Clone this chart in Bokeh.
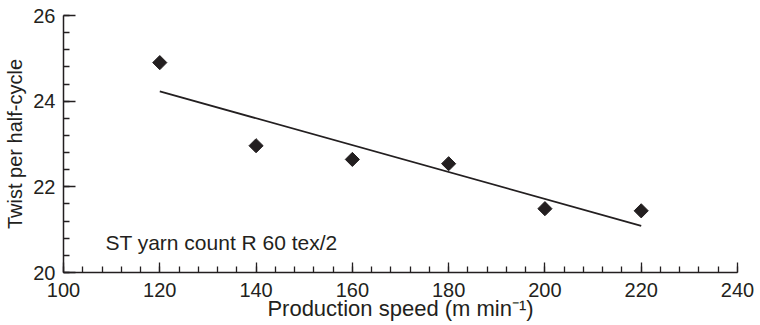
import numpy as np
from bokeh.plotting import figure
from bokeh.models import Range1d, FixedTicker, Label
from bokeh.embed import file_html
from bokeh.resources import INLINE

# Data
speed = [120, 140, 160, 180, 200, 220]
twist = [24.90, 22.96, 22.64, 22.54, 21.49, 21.44]
fit_x = [120, 220]
fit_y = [24.23, 21.09]

x_ticks = [100, 120, 140, 160, 180, 200, 220, 240]
x_minor = [100 + 4 * i for i in range(36)]
y_ticks = [20, 22, 24, 26]
y_minor = [round(20 + 0.4 * i, 2) for i in range(16)]

FONT = "Liberation Sans"
INK = "#231f20"

p = figure(width=760, height=325, output_backend="svg", toolbar_location=None,
           x_range=Range1d(100, 240), y_range=Range1d(20, 26),
           min_border_left=63, min_border_right=23, min_border_top=15, min_border_bottom=53)
p.outline_line_color = None
p.xgrid.visible = False
p.ygrid.visible = False
p.background_fill_color = "white"

p.line(fit_x, fit_y, line_color=INK, line_width=1.8)
p.scatter(speed, twist, marker="square", angle=np.pi / 4, size=10,
          fill_color=INK, line_color=INK)

for ax in (p.xaxis[0], p.yaxis[0]):
    ax.axis_line_color = INK
    ax.axis_line_width = 1.5
    ax.major_tick_line_color = INK
    ax.minor_tick_line_color = INK
    ax.major_tick_line_width = 1.3
    ax.minor_tick_line_width = 1.3
    ax.major_tick_out = 0
    ax.minor_tick_out = 0
    ax.minor_tick_in = 6
    ax.major_label_text_font = FONT
    ax.major_label_text_font_size = "20px"
    ax.major_label_text_color = INK
    ax.axis_label_text_font = FONT
    ax.axis_label_text_font_style = "normal"
    ax.axis_label_text_color = INK

p.xaxis[0].ticker = FixedTicker(ticks=x_ticks, minor_ticks=x_minor)
p.yaxis[0].ticker = FixedTicker(ticks=y_ticks, minor_ticks=y_minor)
p.xaxis[0].major_tick_in = 10
p.yaxis[0].major_tick_in = 12
p.xaxis[0].major_label_standoff = 10
p.yaxis[0].major_label_standoff = 8
p.xaxis[0].axis_label = "Production speed (m min\u207b\u00b9)"
p.yaxis[0].axis_label = "Twist per half-cycle"
p.xaxis[0].axis_label_text_font_size = "22px"
p.yaxis[0].axis_label_text_font_size = "20px"
p.xaxis[0].axis_label_standoff = -4
p.yaxis[0].axis_label_standoff = 4

p.add_layout(Label(x=108.7, y=20.70, text="ST yarn count R 60 tex/2",
                   text_font=FONT, text_font_size="21px", text_color=INK,
                   text_baseline="alphabetic", text_align="left"))

open("out.html", "w").write(file_html(p, INLINE))
